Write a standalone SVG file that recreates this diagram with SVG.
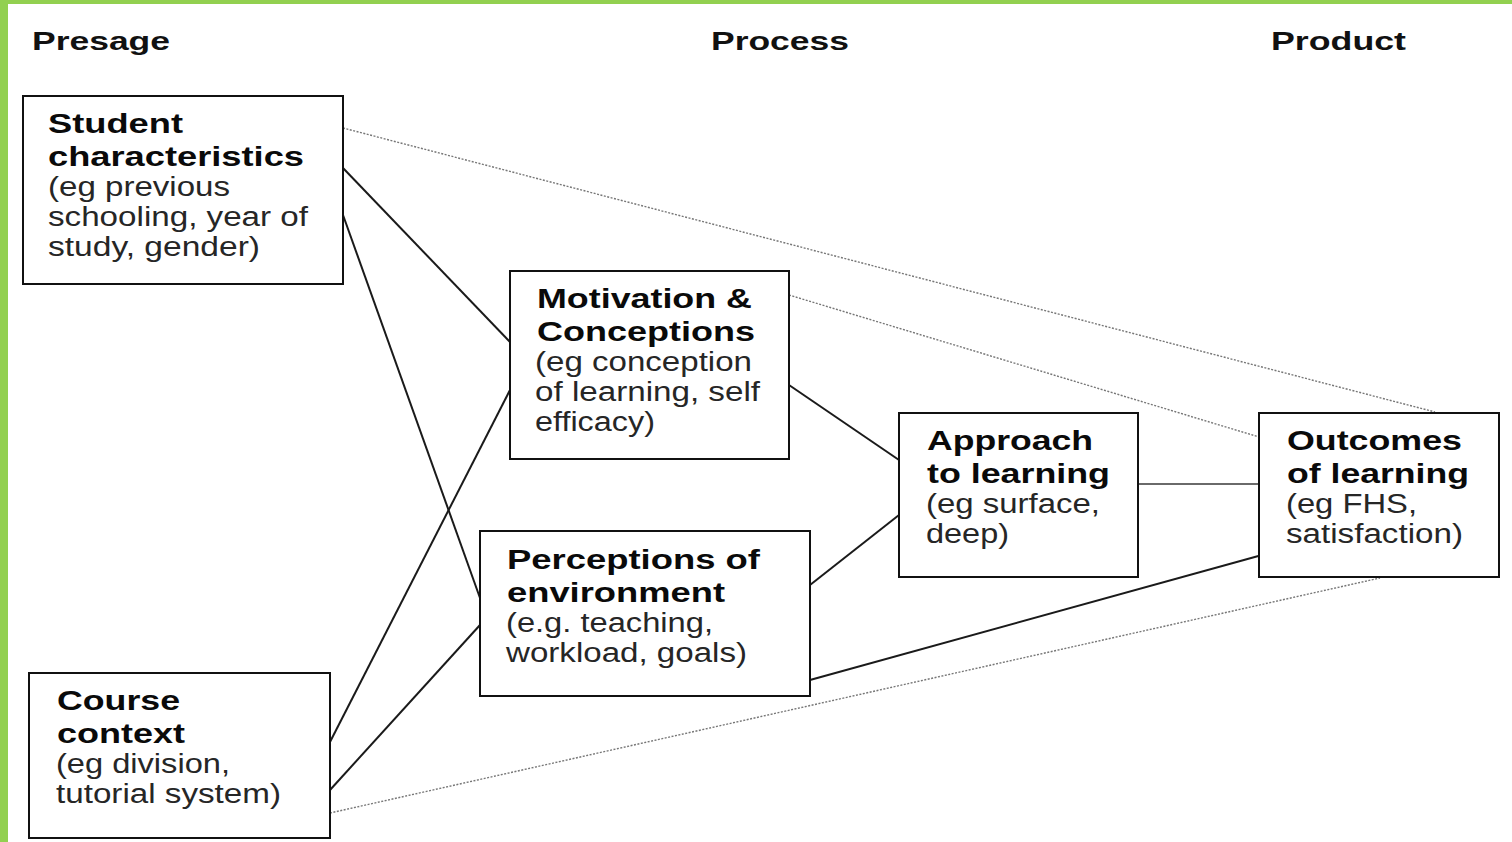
<svg xmlns="http://www.w3.org/2000/svg" width="1512" height="842" viewBox="0 0 1512 842">
<style>
.box{fill:#fff;stroke:#111;stroke-width:2}
.h{font-family:"Liberation Sans",Arial,sans-serif;font-weight:bold;font-size:26px;fill:#111}
.b{font-family:"Liberation Sans",Arial,sans-serif;font-weight:bold;font-size:27px;fill:#0a0a0a}
.r{font-family:"Liberation Sans",Arial,sans-serif;font-size:27px;fill:#262626}
.s{stroke:#1a1a1a;stroke-width:2;fill:none}
.g{stroke:#6a6a6a;stroke-width:2;fill:none}
.d{stroke:#777;stroke-width:1.4;stroke-dasharray:2 1.5;fill:none}
</style>
<rect x="0" y="0" width="1512" height="842" fill="#fff"/>
<rect x="0" y="0" width="1512" height="4" fill="#92d050"/>
<rect x="0" y="0" width="8" height="842" fill="#92d050"/>
<g id="headers">
<text class="h" x="32" y="50" textLength="138" lengthAdjust="spacingAndGlyphs">Presage</text>
<text class="h" x="711" y="50" textLength="138" lengthAdjust="spacingAndGlyphs">Process</text>
<text class="h" x="1271" y="50" textLength="135" lengthAdjust="spacingAndGlyphs">Product</text>
</g>
<g id="connectors">
<line class="d" x1="343" y1="128" x2="1435" y2="412"/>
<line class="d" x1="789" y1="295" x2="1259" y2="437"/>
<line class="d" x1="330" y1="813" x2="1380" y2="578"/>
<line class="s" x1="343" y1="168" x2="510" y2="342"/>
<line class="s" x1="343" y1="215" x2="480" y2="598"/>
<line class="s" x1="330" y1="742" x2="510" y2="390"/>
<line class="s" x1="330" y1="790" x2="480" y2="625"/>
<line class="s" x1="789" y1="385" x2="899" y2="460"/>
<line class="s" x1="810" y1="585" x2="899" y2="515"/>
<line class="g" x1="1138" y1="484" x2="1259" y2="484"/>
<line class="s" x1="810" y1="680" x2="1262" y2="555"/>
</g>
<g id="student">
<rect class="box" x="23" y="96" width="320" height="188"/>
<text class="b" x="48" y="133" textLength="135" lengthAdjust="spacingAndGlyphs">Student</text>
<text class="b" x="48" y="166" textLength="256" lengthAdjust="spacingAndGlyphs">characteristics</text>
<text class="r" x="48" y="196" textLength="182" lengthAdjust="spacingAndGlyphs">(eg previous</text>
<text class="r" x="48" y="226" textLength="260" lengthAdjust="spacingAndGlyphs">schooling, year of</text>
<text class="r" x="48" y="256" textLength="212" lengthAdjust="spacingAndGlyphs">study, gender)</text>
</g>
<g id="motivation">
<rect class="box" x="510" y="271" width="279" height="188"/>
<text class="b" x="537" y="308" textLength="215" lengthAdjust="spacingAndGlyphs">Motivation &amp;</text>
<text class="b" x="537" y="341" textLength="218" lengthAdjust="spacingAndGlyphs">Conceptions</text>
<text class="r" x="535" y="371" textLength="217" lengthAdjust="spacingAndGlyphs">(eg conception</text>
<text class="r" x="535" y="401" textLength="225" lengthAdjust="spacingAndGlyphs">of learning, self</text>
<text class="r" x="535" y="431" textLength="120" lengthAdjust="spacingAndGlyphs">efficacy)</text>
</g>
<g id="perceptions">
<rect class="box" x="480" y="531" width="330" height="165"/>
<text class="b" x="507" y="569" textLength="253" lengthAdjust="spacingAndGlyphs">Perceptions of</text>
<text class="b" x="507" y="602" textLength="218" lengthAdjust="spacingAndGlyphs">environment</text>
<text class="r" x="506" y="632" textLength="207" lengthAdjust="spacingAndGlyphs">(e.g. teaching,</text>
<text class="r" x="506" y="662" textLength="241" lengthAdjust="spacingAndGlyphs">workload, goals)</text>
</g>
<g id="approach">
<rect class="box" x="899" y="413" width="239" height="164"/>
<text class="b" x="927" y="450" textLength="166" lengthAdjust="spacingAndGlyphs">Approach</text>
<text class="b" x="927" y="483" textLength="183" lengthAdjust="spacingAndGlyphs">to learning</text>
<text class="r" x="926" y="513" textLength="174" lengthAdjust="spacingAndGlyphs">(eg surface,</text>
<text class="r" x="926" y="543" textLength="83" lengthAdjust="spacingAndGlyphs">deep)</text>
</g>
<g id="outcomes">
<rect class="box" x="1259" y="413" width="240" height="164"/>
<text class="b" x="1287" y="450" textLength="175" lengthAdjust="spacingAndGlyphs">Outcomes</text>
<text class="b" x="1287" y="483" textLength="182" lengthAdjust="spacingAndGlyphs">of learning</text>
<text class="r" x="1286" y="513" textLength="131" lengthAdjust="spacingAndGlyphs">(eg FHS,</text>
<text class="r" x="1286" y="543" textLength="177" lengthAdjust="spacingAndGlyphs">satisfaction)</text>
</g>
<g id="course">
<rect class="box" x="29" y="673" width="301" height="165"/>
<text class="b" x="57" y="710" textLength="123" lengthAdjust="spacingAndGlyphs">Course</text>
<text class="b" x="57" y="743" textLength="128" lengthAdjust="spacingAndGlyphs">context</text>
<text class="r" x="56" y="773" textLength="174" lengthAdjust="spacingAndGlyphs">(eg division,</text>
<text class="r" x="56" y="803" textLength="225" lengthAdjust="spacingAndGlyphs">tutorial system)</text>
</g>
</svg>
